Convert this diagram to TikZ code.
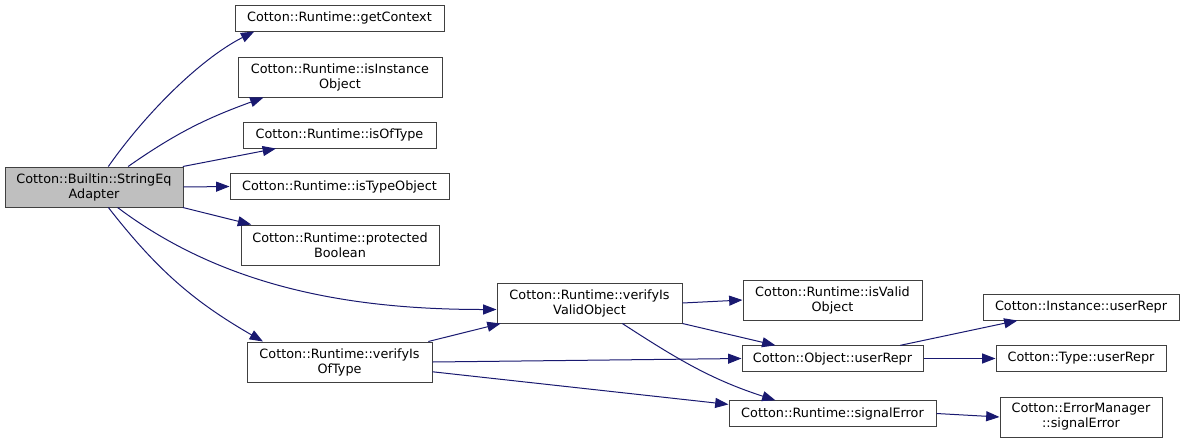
\documentclass[tikz,border=0pt]{standalone}
\usepackage{fontspec}
\setmainfont{DejaVu Sans}
\usetikzlibrary{arrows.meta}
\definecolor{edgeblue}{HTML}{191970}
\definecolor{focusgray}{HTML}{BFBFBF}

\begin{document}
\begin{tikzpicture}[x=0.75pt,y=0.75pt,
  fnbox/.style={draw=black!75, line width=0.75pt, inner sep=0pt, align=center,
    minimum height=19.5pt, font=\fontsize{9.6}{11.25}\selectfont},
  tallbox/.style={fnbox, minimum height=30pt},
  callarrow/.style={draw=edgeblue, line width=0.75pt,
    -{Triangle[length=10pt,width=7.5pt]}}]
  \useasboundingbox (0,0) rectangle (1184,-443);

  \node[tallbox, fill=focusgray, minimum width=133.5pt] (adapter) at (94,-187) {Cotton::Builtin::StringEq\\Adapter};
  \node[fnbox, minimum width=156.75pt] (getcontext) at (339.5,-18) {Cotton::Runtime::getContext};
  \node[tallbox, minimum width=153pt] (isinstance) at (340,-77) {Cotton::Runtime::isInstance\\Object};
  \node[fnbox, minimum width=144.75pt] (isoftype) at (339.5,-135) {Cotton::Runtime::isOfType};
  \node[fnbox, minimum width=164.25pt] (istypeobj) at (339.5,-186.5) {Cotton::Runtime::isTypeObject};
  \node[tallbox, minimum width=148.5pt] (protbool) at (340,-245) {Cotton::Runtime::protected\\Boolean};
  \node[tallbox, minimum width=138.75pt] (verifytype) at (339.5,-362) {Cotton::Runtime::verifyIs\\OfType};
  \node[tallbox, minimum width=138.75pt] (verifyvalid) at (589.5,-303) {Cotton::Runtime::verifyIs\\ValidObject};
  \node[tallbox, minimum width=134.25pt] (isvalid) at (832.5,-300) {Cotton::Runtime::isValid\\Object};
  \node[fnbox, minimum width=135.75pt, minimum height=19pt] (objrepr) at (832.5,-358.5) {Cotton::Object::userRepr};
  \node[fnbox, minimum width=155.25pt, minimum height=19pt] (signalerr) at (832.5,-413.5) {Cotton::Runtime::signalError};
  \node[fnbox, minimum width=147pt] (instrepr) at (1081,-307) {Cotton::Instance::userRepr};
  \node[fnbox, minimum width=127.5pt, minimum height=19pt] (typerepr) at (1081,-358.5) {Cotton::Type::userRepr};
  \node[tallbox, minimum width=121.5pt] (errmgr) at (1081,-417) {Cotton::ErrorManager\\::signalError};

  \draw[callarrow] (adapter.55) to[out=55,in=207,looseness=0.8] (getcontext.189);
  \draw[callarrow] (adapter.31) to[out=35,in=200] (isinstance.195);
  \draw[callarrow] (adapter.13) -- (isoftype.192);
  \draw[callarrow] (adapter.east) -- (istypeobj.west);
  \draw[callarrow] (adapter.347) -- (protbool.167);
  \draw[callarrow] (adapter.319) to[out=-37,in=180,looseness=0.9] (verifyvalid.184);
  \draw[callarrow] (adapter.305) to[out=-52,in=150] (verifytype.165);
  \draw[callarrow] (verifytype.13) -- (verifyvalid.193);
  \draw[callarrow] (verifytype.east) -- (objrepr.west);
  \draw[callarrow] (verifytype.354) -- (signalerr.175);
  \draw[callarrow] (verifyvalid.east) -- (isvalid.west);
  \draw[callarrow] (verifyvalid.south east) -- (objrepr.167);
  \draw[callarrow] (verifyvalid.328) to[out=-33,in=162] (signalerr.167);
  \draw[callarrow] (objrepr.11) -- (instrepr.192);
  \draw[callarrow] (objrepr.east) -- (typerepr.west);
  \draw[callarrow] (signalerr.east) -- (errmgr.west);
\end{tikzpicture}
\end{document}
